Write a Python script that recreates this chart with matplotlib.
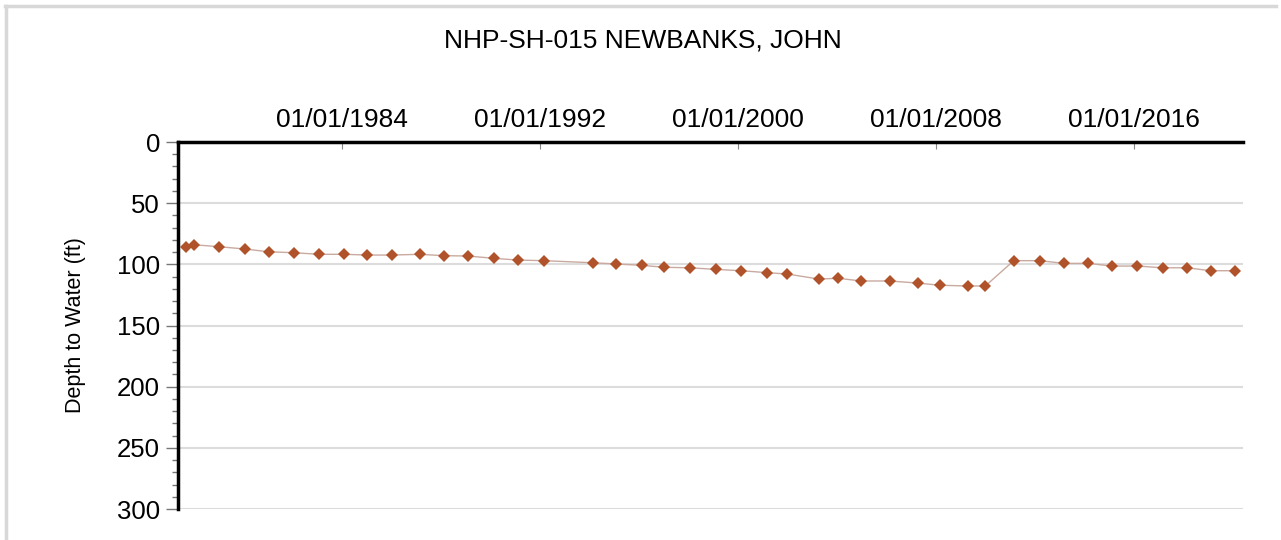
import numpy as np
import pandas as pd
import matplotlib
matplotlib.use('Agg')
import matplotlib.pyplot as plt
import matplotlib.dates as mdates
from matplotlib.lines import Line2D
from matplotlib.ticker import MultipleLocator

plt.rcParams['font.family'] = ['Liberation Sans', 'DejaVu Sans']

title = 'NHP-SH-015 NEWBANKS, JOHN'
ylabel = 'Depth to Water (ft)'

dates = [
    '1977-09-10', '1978-01-10', '1979-01-15', '1980-02-01', '1981-01-10',
    '1982-01-20', '1983-02-01', '1984-02-01', '1985-01-10', '1986-01-05',
    '1987-02-20', '1988-02-10', '1989-02-01', '1990-02-25', '1991-02-10',
    '1992-03-01', '1994-02-15', '1995-02-01', '1996-02-10', '1997-01-10',
    '1998-01-20', '1999-02-05', '2000-02-15', '2001-03-10', '2001-12-28',
    '2003-04-10', '2004-01-20', '2004-12-28', '2006-02-20', '2007-04-10',
    '2008-03-05', '2009-04-25', '2010-01-01', '2011-02-25', '2012-03-15',
    '2013-03-10', '2014-03-01', '2015-02-10', '2016-02-25', '2017-03-05',
    '2018-02-25', '2019-02-10', '2020-02-10',
]
depth = [
    85.6, 84.0, 85.6, 87.5, 89.7, 90.5, 91.8, 91.8, 92.4, 92.4,
    91.8, 92.9, 93.2, 95.1, 96.5, 97.0, 98.7, 99.7, 100.8, 102.4,
    102.8, 104.1, 105.2, 106.8, 107.9, 112.0, 111.4, 113.6, 113.6, 115.3,
    117.1, 117.7, 117.7, 97.0, 97.0, 99.2, 99.2, 101.4, 101.4, 102.8,
    102.8, 105.2, 105.2,
]
tick_years = [1984, 1992, 2000, 2008, 2016]

x = pd.to_datetime(dates)

fig = plt.figure(figsize=(12.81, 5.40), dpi=100)
ax = fig.add_axes([0.139, 0.0574, 0.8313, 0.6796])

ax.plot(x, depth, '-', color='#c9aaa0', lw=1.0, zorder=2)
ax.plot(x, depth, 'D', color='#b0522a', markersize=6.5, markeredgewidth=0, zorder=3)

ax.set_ylim(300, 0)
ax.set_xlim(pd.Timestamp('1977-05-15'), pd.Timestamp('2020-06-01'))

ax.yaxis.set_major_locator(MultipleLocator(50))
ax.yaxis.set_minor_locator(MultipleLocator(10))
ax.grid(axis='y', which='major', color='#dcdcdc', lw=1.5)
ax.set_axisbelow(True)

ax.xaxis.tick_top()
ax.set_xticks([pd.Timestamp(f'{y}-01-01') for y in tick_years])
ax.xaxis.set_major_formatter(mdates.DateFormatter('%m/%d/%Y'))
ax.tick_params(axis='x', which='major', direction='in', length=5, width=0.8,
               color='#888888', labelsize=19, pad=7)
ax.tick_params(axis='y', which='major', direction='out', length=9, width=1,
               color='#777777', labelsize=18.5, pad=4)
ax.tick_params(axis='y', which='minor', direction='out', length=4, width=1,
               color='#777777')

for s in ['right', 'bottom']:
    ax.spines[s].set_visible(False)
ax.spines['top'].set_linewidth(2.5)
ax.spines['left'].set_linewidth(2.5)

ax.set_ylabel(ylabel, fontsize=15.5, labelpad=22)
fig.text(0.502, 0.925, title, ha='center', va='center', fontsize=19)

# light frame around the chart area
fig.add_artist(Line2D([0.004, 0.996], [0.989, 0.989], color='#d8d8d8', lw=2.5))
fig.add_artist(Line2D([0.005, 0.005], [0.0, 0.989], color='#d8d8d8', lw=2.5))

fig.savefig('out.png', dpi=100)
